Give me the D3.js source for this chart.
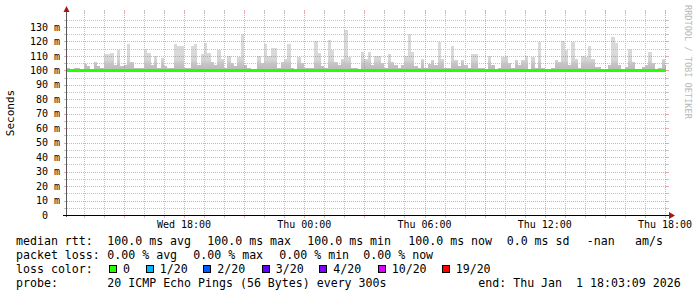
<!DOCTYPE html>
<html>
<head>
<meta charset="utf-8">
<script src="https://cdn.jsdelivr.net/npm/d3@7"></script>
<style>
body{margin:0;background:#fff}
svg{display:block}
text{font-family:"DejaVu Sans Mono",monospace;fill:#000}
</style>
</head>
<body>
<svg id="chart" width="697" height="297"></svg>
<script>

// smoke top (ms) per 10 minute bin
var smokeTop = [
	101.5,101,101.5,101.5,101,104.5,103,101,106,103, 101.5,111,111.5,112,104,114,103,104,118,106,
	101.5,101.5,102,114.5,112,104,110,102,108.5,103, 101.5,101.5,118,117,117,102,101.5,117,118.5,104,
	111,119,112,106,104,
	113.8,108,101.5,110,105,103,109,125,104,101.5, 101,101,110,105,118,110,115.5,115.5,101.5,106,
	108,118,102,101,109,105,102,101.5,102,120, 112,103,101.5,120.7,113.8,105.8,104,108,127.7,109,
	102,101.5,101,112.7,108,
	113,104,110,110,105,101.5,111,106,104,101.5, 103.5,110,125,113,103,101.5,108,102,104.6,107,
	104,119.6,108,102,101.5,116.8,107,103,107,104, 102,111.5,111,101.5,102,101,110,104,101,101.5,
	109,110,105,102,107,
	103.5,107,110,101,109,101.5,119.6,102,101,101, 102,107,106,120,113.8,104,119.6,108,101.5,110,
	109,117,108,102.5,102.5,101,101,104,123,119, 103.5,101,102.5,115,105.8,101,101,102.5,103.5,113,
	105,101,101.5,108,104
];
var medianRtt = 100;
var lossIndex = 0;

var yTickValues = [0,10,20,30,40,50,60,70,80,90,100,110,120,130];
var xLabelTimes = [new Date(2025,11,31,18), new Date(2026,0,1,0), new Date(2026,0,1,6), new Date(2026,0,1,12), new Date(2026,0,1,18)];

var lossColors = ["#26ff00","#00b8ff","#0059ff","#5e00ff","#7e00ff","#dd00ff","#ff0000"];
var lossLabels = ["0","1/20","2/20","3/20","4/20","10/20","19/20"];

var rttLabel = "median rtt:";
var rttStats = ["100.0 ms avg","100.0 ms max","100.0 ms min","100.0 ms now","0.0 ms sd","-nan","am/s"];
var lossLabel = "packet loss:";
var lossStats = ["0.00 % avg","0.00 % max","0.00 % min","0.00 % now"];
var probeText = "20 ICMP Echo Pings (56 Bytes) every 300s";
var endText = "end: Thu Jan  1 18:03:09 2026";

var svg = d3.select("#chart");

var X0 = 67, X1 = 665, YT = 13, YB = 215;

var x = d3.scaleTime()
.domain([xLabelTimes[0], xLabelTimes[4]])
.range([184, 665]);

var y = d3.scaleLinear()
.domain([0, 139.7])
.range([YB, YT]);

var tStart = x.invert(X0), tEnd = x.invert(X1 + 1);
var binMs = 10 * 60 * 1000;

// smoke gradient, darker near the median
var grad = svg.append("defs").append("linearGradient")
.attr("id", "smoke")
.attr("gradientUnits", "userSpaceOnUse")
.attr("x1", 0).attr("x2", 0)
.attr("y1", y(100)).attr("y2", y(112));
grad.append("stop").attr("offset", "0%").attr("stop-color", "#b8b8b8");
grad.append("stop").attr("offset", "40%").attr("stop-color", "#c6c6c6");
grad.append("stop").attr("offset", "60%").attr("stop-color", "#d6d6d6");
grad.append("stop").attr("offset", "100%").attr("stop-color", "#d9d9d9");

svg.append("g")
.selectAll("rect")
.data(smokeTop)
.enter().append("rect")
.attr("x", function(d, i){ return x(new Date(+tStart + i * binMs)); })
.attr("width", function(d, i){
	var a = x(new Date(+tStart + i * binMs));
	var b = Math.min(x(new Date(+tStart + (i + 1) * binMs)), X1 + 1);
	return Math.max(0, b - a);
})
.attr("y", function(d){ return y(d); })
.attr("height", function(d){ return y(medianRtt) - y(d); })
.attr("fill", "url(#smoke)")
.attr("shape-rendering", "crispEdges");

// grid
var grid = svg.append("g").attr("shape-rendering", "crispEdges");
var minorY = d3.range(5, 139, 5);
minorY.forEach(function(v){
	var yy = Math.round(y(v)) + 0.5;
	var major = v % 10 == 0;
	var col = major ? "rgba(235,90,90,0.55)" : "#c4c4c4";
	grid.append("line").attr("x1", X0).attr("x2", X1 + 1).attr("y1", yy).attr("y2", yy)
	.attr("stroke", col).attr("stroke-dasharray", "1,1");
	grid.append("line").attr("x1", X0 - 3).attr("x2", X0).attr("y1", yy).attr("y2", yy).attr("stroke", col);
	grid.append("line").attr("x1", X1 + 1).attr("x2", X1 + 4).attr("y1", yy).attr("y2", yy).attr("stroke", col);
});

var hours = d3.timeHour.range(tStart, tEnd);
hours.forEach(function(t){
	var xx = Math.round(x(t)) + 0.5;
	var major = t.getHours() % 3 == 0;
	var col = major ? "rgba(235,90,90,0.55)" : "#c4c4c4";
	grid.append("line").attr("x1", xx).attr("x2", xx).attr("y1", YT).attr("y2", YB)
	.attr("stroke", col).attr("stroke-dasharray", "1,1");
	grid.append("line").attr("x1", xx).attr("x2", xx).attr("y1", YB).attr("y2", YB + 3).attr("stroke", col);
	grid.append("line").attr("x1", xx).attr("x2", xx).attr("y1", YT - 3).attr("y2", YT).attr("stroke", col);
});

// median line
svg.append("line")
.attr("x1", x(tStart)).attr("x2", X1 + 1)
.attr("y1", y(medianRtt)).attr("y2", y(medianRtt))
.attr("stroke", lossColors[lossIndex])
.attr("stroke-width", 3);

// axes
svg.append("line").attr("x1", X0 - 0.5).attr("x2", X0 - 0.5).attr("y1", YB + 2).attr("y2", 10)
.attr("stroke", "#555").attr("shape-rendering", "crispEdges");
svg.append("line").attr("x1", X0 - 4).attr("x2", 670).attr("y1", YB + 0.5).attr("y2", YB + 0.5)
.attr("stroke", "#000").attr("shape-rendering", "crispEdges");
svg.append("path").attr("d", "M63.5,12 L66.5,6 L69.5,12 Z").attr("fill", "#a01818");
svg.append("path").attr("d", "M669,212 L675,215.5 L669,219 Z").attr("fill", "#a01818");

// y labels
svg.append("g")
.selectAll("text")
.data(yTickValues)
.enter().append("text")
.attr("x", function(d){ return d == 0 ? 48 : 60; })
.attr("y", function(d){ return y(d); })
.attr("dy", "0.36em")
.attr("text-anchor", "end")
.style("font-size", "10px")
.text(function(d){ return d == 0 ? "0" : d + " m"; });

// x labels
var fmt = d3.timeFormat("%a %H:%M");
svg.append("g")
.selectAll("text")
.data(xLabelTimes)
.enter().append("text")
.attr("x", function(d){ return x(d); })
.attr("y", 228)
.attr("text-anchor", "middle")
.style("font-size", "10px")
.text(function(d){ return fmt(d); });

svg.append("text")
.attr("transform", "translate(14,113) rotate(-90)")
.attr("text-anchor", "middle")
.style("font-size", "11px")
.text("Seconds");

svg.append("text")
.attr("transform", "translate(685,5) rotate(90)")
.attr("text-anchor", "start")
.style("font-size", "8.6px")
.style("fill", "#b8b8b8")
.text("RRDTOOL / TOBI OETIKER");

// legend
var leg = svg.append("g").style("font-size", "11.6px");
var rowY = [245, 259, 273, 287];

function legText(px, py, s){
	leg.append("text")
	.attr("xml:space", "preserve")
	.style("white-space", "pre")
	.attr("x", px).attr("y", py).text(s);
}

legText(16, rowY[0], rttLabel);
var rttX = [107.3, 207.3, 307.3, 408.3, 506.7, 586.7, 635];
rttStats.forEach(function(s, i){ legText(rttX[i], rowY[0], s); });

legText(16, rowY[1], lossLabel);
var lossX = [107.3, 193.3, 279.3, 363.3];
lossStats.forEach(function(s, i){ legText(lossX[i], rowY[1], s); });

legText(16, rowY[2], "loss color:");
var boxX = [109, 145.7, 203.3, 261.7, 319.3, 377.7, 441.7];
lossColors.forEach(function(c, i){
	leg.append("rect").attr("x", boxX[i] + 0.5).attr("y", 265.5).attr("width", 7).attr("height", 7)
	.attr("fill", c).attr("stroke", "#000").attr("shape-rendering", "crispEdges");
	legText(boxX[i] + 14, rowY[2], lossLabels[i]);
});

legText(16, rowY[3], "probe:");
legText(107.3, rowY[3], probeText);
legText(478.3, rowY[3], endText);

</script>
</body>
</html>
